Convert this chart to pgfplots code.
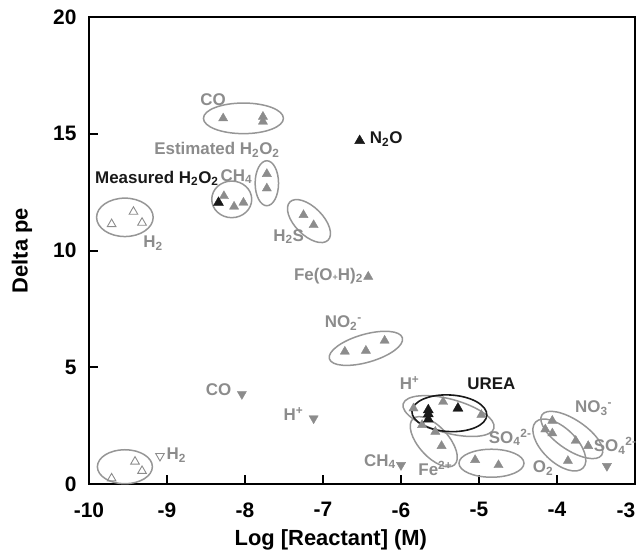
\documentclass[border=0pt]{standalone}
\usepackage{fontspec}
\setmainfont{Liberation Sans}
\usepackage{pgfplots}
\pgfplotsset{compat=1.18}
\definecolor{mg}{RGB}{140,140,140}
\definecolor{eg}{RGB}{150,150,150}
\definecolor{bk}{RGB}{25,25,25}
\newcommand{\lab}{\fontsize{17}{20}\selectfont\bfseries}
\begin{document}
\begin{tikzpicture}
\begin{axis}[
  scale only axis, width=546bp, height=467bp,
  xmin=-10, xmax=-3, ymin=0, ymax=20,
  axis line style={line width=2.6bp},
  tick align=inside, xtick pos=bottom, ytick pos=left,
  major tick length=9bp,
  tick style={line width=2bp, black},
  xtick={-10,-9,-8,-7,-6,-5,-4,-3}, xticklabels={-10,-9,-8,-7,-6,-5,-4,\hspace*{-18bp}-3},
  ytick={0,5,10,15,20}, yticklabels={0,5,10,15,20},
  ticklabel style={font=\fontsize{21}{25}\selectfont\bfseries},
  xticklabel style={yshift=-15bp},
  yticklabel style={xshift=-9bp},
  xlabel={Log [Reactant] (M)}, ylabel={Delta pe},
  label style={font=\fontsize{22}{26}\selectfont\bfseries},
  xlabel style={at={(axis description cs:0.443,-0.1306)}, anchor=base},
  ylabel style={at={(axis description cs:-0.1227,0.5)}, anchor=center},
  clip=false,
]
\coordinate (SW) at (rel axis cs:0,0);
\coordinate (NE) at (rel axis cs:1,1);

% ellipses
\begin{scope}[eg, line width=1.5bp]
\draw (axis cs:-8.02,15.66) ellipse [x radius=40bp, y radius=15.3bp];
\draw (axis cs:-7.72,12.88) ellipse [x radius=11.7bp, y radius=22.5bp];
\draw (axis cs:-8.17,12.19) ellipse [x radius=20bp, y radius=18.3bp];
\draw (axis cs:-9.54,11.42) ellipse [x radius=28.3bp, y radius=19.2bp];
\draw (axis cs:-7.18,11.26) ellipse [x radius=27bp, y radius=14bp, rotate=-45];
\draw (axis cs:-6.45,5.81) ellipse [x radius=38bp, y radius=14bp, rotate=16];
\draw (axis cs:-9.54,0.74) ellipse [x radius=27.5bp, y radius=17bp];
\draw (axis cs:-5.39,2.91) ellipse [x radius=47bp, y radius=17bp, rotate=-15];
\draw (axis cs:-5.58,1.81) ellipse [x radius=31bp, y radius=15bp, rotate=-48];
\draw (axis cs:-4.84,0.89) ellipse [x radius=32.5bp, y radius=14bp];
\draw (axis cs:-3.81,2.10) ellipse [x radius=36bp, y radius=15bp, rotate=-34];
\draw (axis cs:-3.97,1.67) ellipse [x radius=33bp, y radius=17bp, rotate=-44];
\end{scope}

% open triangles
\addplot[only marks, mark=triangle, mark size=5bp, mark options={draw=mg, line width=0.9bp}] coordinates {
(-9.71,11.13) (-9.43,11.66) (-9.32,11.19)
(-9.71,0.24) (-9.41,0.96) (-9.32,0.56)
};
\addplot[only marks, mark=triangle, mark size=5bp, mark options={draw=mg, line width=0.9bp, rotate=180}] coordinates {
(-9.09,1.20)
};
% gray filled up triangles
\addplot[only marks, mark=triangle*, mark size=5.3bp, mark options={draw=mg, fill=mg}] coordinates {
(-8.28,15.66) (-7.77,15.73) (-7.77,15.52)
(-7.72,13.28) (-7.72,12.66)
(-8.27,12.33) (-8.14,11.88) (-8.02,12.05)
(-7.25,11.52) (-7.12,11.09)
(-6.42,8.88)
(-6.72,5.67) (-6.45,5.71) (-6.21,6.14)
(-5.46,3.52) (-5.84,3.24) (-4.97,2.96)
(-5.56,2.24) (-5.48,1.63) (-5.73,2.53)
(-5.05,1.03) (-4.75,0.81)
(-4.06,2.71) (-4.15,2.34) (-4.06,2.17) (-3.76,1.85) (-3.60,1.63) (-3.86,0.99)
};
% gray filled down triangles
\addplot[only marks, mark=triangle*, mark size=5.3bp, mark options={draw=mg, fill=mg, rotate=180}] coordinates {
(-8.04,3.85) (-7.12,2.81) (-6.00,0.81) (-3.36,0.77)
};
% urea ellipse
\draw[bk, line width=1.6bp] (axis cs:-5.38,3.03) ellipse [x radius=37.5bp, y radius=18.3bp, rotate=-3];
% black triangles
\addplot[only marks, mark=triangle*, mark size=5.8bp, mark options={draw=bk, fill=bk}] coordinates {
(-8.34,12.05) (-6.53,14.70)
(-5.65,3.17) (-5.65,2.77) (-5.65,3.00) (-5.27,3.24)
};

% labels
\node[mg, font=\lab] at (axis cs:-8.41,16.48) {CO};
\node[mg, font=\lab] at (axis cs:-8.36,14.30) {Estimated H\textsubscript{2}O\textsubscript{2}};
\node[bk, font=\lab] at (axis cs:-9.13,13.09) {Measured H\textsubscript{2}O\textsubscript{2}};
\node[mg, font=\lab] at (axis cs:-8.11,13.16) {CH\textsubscript{4}};
\node[mg, font=\lab] at (axis cs:-9.18,10.31) {H\textsubscript{2}};
\node[mg, font=\lab] at (axis cs:-7.44,10.59) {H\textsubscript{2}S};
\node[bk, font=\lab] at (axis cs:-6.19,14.76) {N\textsubscript{2}O};
\node[mg, font=\lab] at (axis cs:-6.93,8.91) {Fe(O{\fontsize{9}{10}\selectfont +}H)\textsubscript{2}};
\node[mg, font=\lab] at (axis cs:-6.74,6.88) {NO\textsubscript{2}\textsuperscript{-}};
\node[mg, font=\lab] at (axis cs:-8.34,4.03) {CO};
\node[mg, font=\lab] at (axis cs:-7.38,3.00) {H\textsuperscript{+}};
\node[mg, font=\lab] at (axis cs:-8.88,1.24) {H\textsubscript{2}};
\node[mg, font=\lab] at (axis cs:-6.27,0.96) {CH\textsubscript{4}};
\node[mg, font=\lab] at (axis cs:-5.89,4.31) {H\textsuperscript{+}};
\node[bk, font=\lab] at (axis cs:-4.84,4.28) {UREA};
\node[mg, font=\lab] at (axis cs:-5.56,0.67) {Fe\textsuperscript{2+}};
\node[mg, font=\lab] at (axis cs:-4.60,2.00) {SO\textsubscript{4}\textsuperscript{2-}};
\node[mg, font=\lab] at (axis cs:-3.53,3.24) {NO\textsubscript{3}\textsuperscript{-}};
\node[mg, font=\lab, anchor=west, inner sep=0pt] at (axis cs:-3.53,1.63) {SO\textsubscript{4}\textsuperscript{2-}};
\node[mg, font=\lab] at (axis cs:-4.18,0.67) {O\textsubscript{2}};
\end{axis}
\pgfresetboundingbox
\path ([shift={(-89bp,-65bp)}]SW) rectangle ([shift={(3bp,17bp)}]NE);
\end{tikzpicture}
\end{document}
